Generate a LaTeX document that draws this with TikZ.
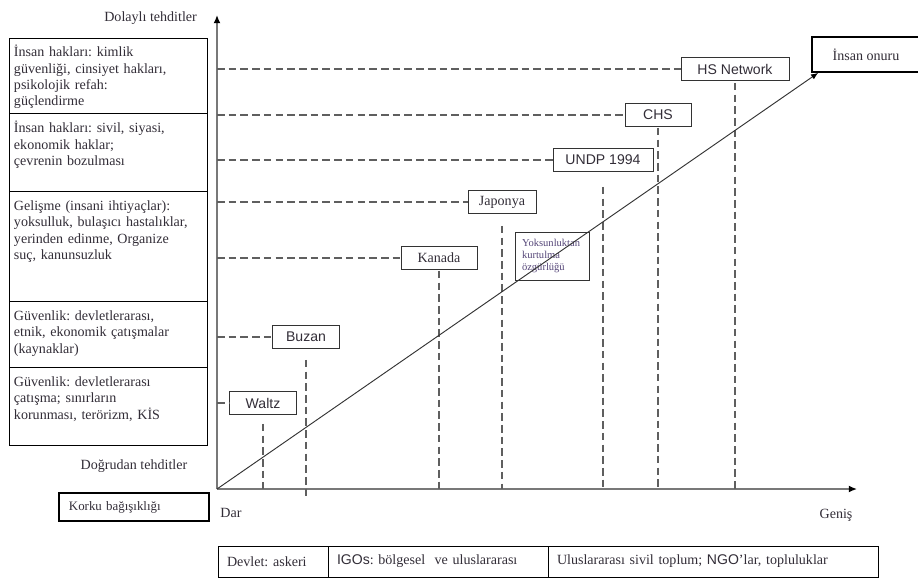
\documentclass[tikz,border=0pt]{standalone}
\usepackage{fontspec}
\setmainfont{Liberation Serif}
\setsansfont{Liberation Sans}
\frenchspacing
\usetikzlibrary{positioning,arrows.meta}

\definecolor{ink}{RGB}{50,45,55}
\definecolor{inkpurple}{RGB}{85,70,120}
\definecolor{dashgray}{RGB}{95,95,95}
\definecolor{axisgray}{RGB}{120,120,120}

\tikzset{
  threat/.style={draw, line width=0.8pt, outer sep=0pt, anchor=north west, text width=5.64cm,
    align=left, inner xsep=0.15cm, inner ysep=5pt, text height=11pt, text depth=#1,
    font=\fontsize{12}{14}\selectfont, text=ink},
  actor/.style={draw=black!80, line width=0.8pt, minimum width=#1, minimum height=0.68cm,
    inner sep=0pt, font=\fontsize{12}{14}\selectfont, text=ink},
  dashline/.style={dashgray, line width=1.2pt, dash pattern=on 6.5pt off 3.5pt},
  axis/.style={axisgray, line width=1.3pt, -{Latex[black,length=7pt,width=6pt]}},
  trend/.style={black!80, line width=0.8pt, -{Latex[black,length=6pt,width=5pt]}},
  cellbox/.style={draw, line width=0.7pt, outer sep=0pt, minimum height=0.93cm, inner xsep=0.27cm,
    text width=#1, align=left, font=\fontsize{12}{14}\selectfont, text=ink}
}

\begin{document}
\begin{tikzpicture}[x=0.03cm,y=-0.03cm]
\useasboundingbox (0,0) rectangle (918,579);

\node[threat=1.539cm] (t1) at (9,38) {İnsan hakları: kimlik\\ güvenliği, cinsiyet hakları,\\ psikolojik refah:\\ güçlendirme};
\node[threat=1.599cm, below=0pt of t1] (t2) {İnsan hakları: sivil, siyasi,\\ ekonomik haklar;\\ çevrenin bozulması};
\node[threat=2.559cm, below=0pt of t2] (t3) {Gelişme (insani ihtiyaçlar):\\ yoksulluk, bulaşıcı hastalıklar,\\ yerinden edinme, Organize\\ suç, kanunsuzluk};
\node[threat=1.239cm, below=0pt of t3] (t4) {Güvenlik: devletlerarası,\\ etnik, ekonomik çatışmalar\\ (kaynaklar)};
\node[threat=1.599cm, below=0pt of t4] (t5) {Güvenlik: devletlerarası\\ çatışma; sınırların\\ korunması, terörizm, KİS};

\node[anchor=east, font=\fontsize{12}{14}\selectfont, text=ink] (indirect) at (201,18) {Dolaylı tehditler};
\node[font=\fontsize{12}{14}\selectfont, text=ink] (direct) at (134,466) {Doğrudan tehditler};
\node[draw, line width=1.8pt, minimum height=0.84cm, inner xsep=0.3cm, text width=3.9cm, align=left,
      font=\fontsize{11}{13}\selectfont, text=ink] (fear) at (134,507) {Korku bağışıklığı};

\coordinate (o) at (217,489);
\coordinate (ytip) at (217,15);
\coordinate (xtip) at (857,489);
\draw[axis] (o) -- (ytip);
\draw[axis] (o) -- (xtip);
\node[font=\fontsize{12}{14}\selectfont, text=ink] (narrow) at (231,513) {Dar};
\node[font=\fontsize{12}{14}\selectfont, text=ink] (wide) at (836,515) {Geniş};

\foreach \x/\y/\w/\n/\t in {263/403/2.01cm/waltz/\textsf{Waltz}, 306/337/2.01cm/buzan/\textsf{Buzan},
                            439/258/2.28cm/kanada/Kanada, 502/202/2.04cm/japonya/Japonya,
                            603/160/3.0cm/undp/\textsf{UNDP 1994}, 658/115/1.98cm/chs/\textsf{CHS},
                            735/69/3.24cm/hsn/\textsf{HS Network}}
  \node[actor=\w] (\n) at (\x,\y) {\t};

\foreach \n/\gap/\ext in {waltz/0.27/0, buzan/0.33/0.24, kanada/0.03/0, japonya/0.36/0,
                          undp/0.45/0, chs/0.03/0, hsn/0.06/0} {
  \draw[dashline] (\n.west -| o) -- (\n.west);
  \draw[dashline] ([yshift=-\gap cm]\n.south) -- ([yshift=-\ext cm]\n.south |- o);
}

\node[draw=black!80, line width=0.8pt, minimum height=1.44cm, inner xsep=0.21cm, text width=1.8cm,
      align=left, font=\fontsize{9}{10.2}\selectfont, text=inkpurple] (want) at (552,256) {Yoksunluktan\\ kurtulma\\ özgürlüğü};

\node[draw, line width=1.5pt, minimum width=3.24cm, minimum height=1.05cm,
      font=\fontsize{12}{14}\selectfont, text=ink] (onuru) at (866,54.5) {İnsan onuru};
\draw[trend] (o) -- ([xshift=0.21cm]onuru.south west);

\node[cellbox=2.76cm] (state) at (273,561.5) {Devlet: askeri};
\node[cellbox=6.06cm, right=0pt of state] (igo) {\textsf{IGOs}: bölgesel~ ve uluslararası};
\node[cellbox=9.36cm, right=0pt of igo] (ngo) {Uluslararası sivil toplum; \textsf{NGO}’lar, topluluklar};

\end{tikzpicture}
\end{document}
